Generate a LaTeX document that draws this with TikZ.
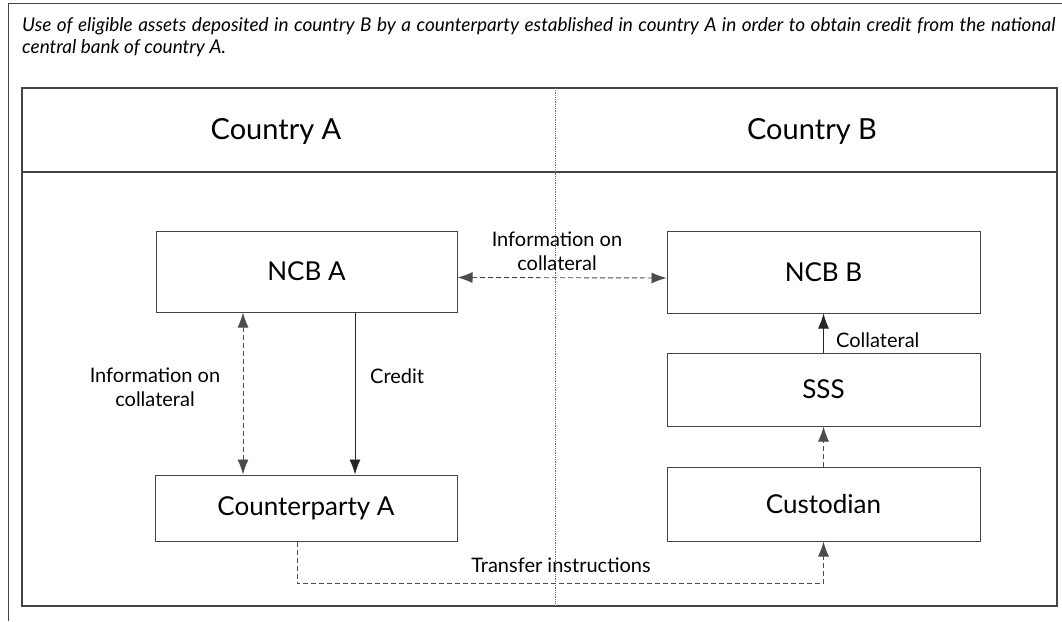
\documentclass[tikz,border=0pt]{standalone}
\usepackage{fontspec}
\setmainfont{Lato}
\usetikzlibrary{arrows.meta}
\definecolor{framegray}{HTML}{444444}
\tikzset{
  box/.style={draw=framegray, line width=1pt, inner sep=0pt, font=\fontsize{26}{30}\selectfont},
  lbl/.style={font=\fontsize{20}{24}\selectfont, align=center, inner sep=0pt},
  headtip/.style={-{Latex[length=15pt,width=11pt]}},
  flow/.style={draw=black!85, line width=0.9pt, headtip},
  infoflow/.style={flow, dashed, dash pattern=on 5pt off 3pt, draw=black!70},
  bothflow/.style={infoflow, {Latex[length=15pt,width=11pt]}-{Latex[length=15pt,width=11pt]}}
}
\begin{document}
\begin{tikzpicture}[x=1pt,y=-1pt]
  %%%%% START %%%%%
  \useasboundingbox (0,0) rectangle (1062,621);

  \draw[line width=1pt, color=framegray] (1062,3) -- (8,3) -- (8,621);
  \node[anchor=north west, text width=1033pt, align=justify, inner sep=0pt,
        font=\fontsize{19}{22}\selectfont\itshape] (caption) at (22,17)
    {Use of eligible assets deposited in country B by a counterparty established in country A in order to obtain credit from the national\linebreak
     central bank of country A.};

  \draw[line width=1.2pt, color=framegray] (22,88) rectangle (1057,606);
  \draw[line width=1.2pt, color=framegray] (22,172) -- (1057,172);
  \draw[densely dotted, line width=0.8pt, color=black!55] (555,88) -- (555,606);

  \node[font=\fontsize{29}{32}\selectfont] (countrya) at (276,131) {Country A};
  \node[font=\fontsize{29}{32}\selectfont] (countryb) at (812,131) {Country B};

  \node[box, minimum width=301pt, minimum height=81pt] (ncba) at (306.5,271.5) {NCB A};
  \node[box, minimum width=302pt, minimum height=66pt] (cpa) at (306,508) {Counterparty A};
  \node[box, minimum width=313pt, minimum height=82pt] (ncbb) at (823.5,272) {NCB B};
  \node[box, minimum width=313pt, minimum height=73pt] (sss) at (823.5,389.5) {SSS};
  \node[box, minimum width=313pt, minimum height=74pt] (cust) at (823.5,504) {Custodian};

  \coordinate (infox) at (243,0);
  \coordinate (creditx) at (355,0);
  \coordinate (trfx) at (297,0);

  \draw[bothflow] (ncba.south -| infox) -- (cpa.north -| infox);
  \draw[flow] (ncba.south -| creditx) -- (cpa.north -| creditx);
  \draw[bothflow] ([yshift=-6pt]ncba.east) -- ([yshift=-6pt]ncbb.west);
  \draw[flow] (sss.north) -- (ncbb.south);
  \draw[infoflow] (cust.north) -- (sss.south);
  \draw[infoflow] (cpa.south -| trfx) -- ++(0,42) -| (cust.south);

  \node[lbl] (infoa) at (155,387) {Information on\\collateral};
  \node[lbl, anchor=west] (credit) at (370,376) {Credit};
  \node[lbl] (infoab) at (557,251) {Information on\\collateral};
  \node[lbl, anchor=west] (coll) at (836,340) {Collateral};
  \node[lbl] (trf) at (561,565) {Transfer instructions};
  %%%%% END %%%%%
\end{tikzpicture}
\end{document}
